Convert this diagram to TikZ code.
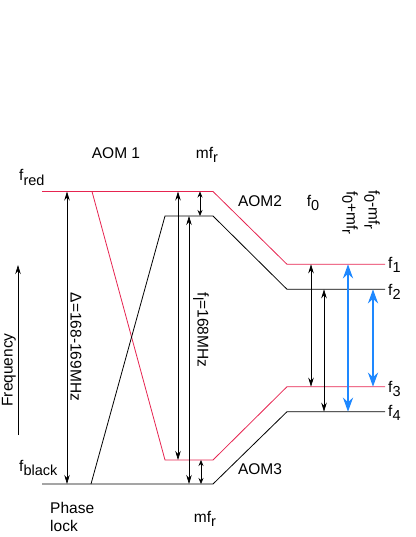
\documentclass[tikz,border=0pt]{standalone}
\usepackage{fontspec}
\setmainfont{Liberation Sans}
\usetikzlibrary{arrows.meta}
\definecolor{lvred}{RGB}{230,36,80}
\definecolor{lvblue}{RGB}{30,136,255}
\newcommand\sbs[1]{\raisebox{-0.28em}{\fontsize{14.5}{15}\selectfont #1}}
\begin{document}
\begin{tikzpicture}[x=1pt,y=-1pt,
  font=\fontsize{15.5}{17.5}\selectfont,
  lvl/.style={line width=0.8pt},
  redlvl/.style={lvl,draw=lvred},
  blklvl/.style={lvl,draw=black},
  dbl/.style={line width=0.7pt,{Stealth[length=9pt,width=5.5pt]}-{Stealth[length=9pt,width=5.5pt]}},
  small/.style={line width=0.7pt,{Stealth[length=6pt,width=5pt]}-{Stealth[length=6pt,width=5pt]}},
  bluedbl/.style={line width=2.4pt,draw=lvblue,{Stealth[length=14pt,width=10pt]}-{Stealth[length=14pt,width=10pt]}},
  lbl/.style={inner sep=0pt},
  ]
\useasboundingbox (0,0) rectangle (415,537);
% level coordinates
\coordinate (r1a) at (42,191.5);  \coordinate (r1b) at (92,191.5);
\coordinate (r1c) at (213,191.5); \coordinate (r1d) at (287,264.3); \coordinate (r1e) at (385,264.3);
\coordinate (b1a) at (165,216);   \coordinate (b1b) at (213,216);
\coordinate (b1c) at (287,289.3); \coordinate (b1d) at (385,289.3);
\coordinate (r2a) at (165,460);   \coordinate (r2b) at (213,460);
\coordinate (r2c) at (287,386.7); \coordinate (r2d) at (385,386.7);
\coordinate (b2a) at (42,484);    \coordinate (b2b) at (91,484);
\coordinate (b2c) at (213,484);   \coordinate (b2d) at (287,411.7); \coordinate (b2e) at (385,411.7);
% levels
\draw[redlvl] (r1a) -- (r1c) -- (r1d) -- (r1e);
\draw[redlvl] (r1b) -- (r2a) -- (r2b) -- (r2c) -- (r2d);
\draw[blklvl] (b2b) -- (b1a) -- (b1b) -- (b1c) -- (b1d);
\draw[blklvl] (b2a) -- (b2c) -- (b2d) -- (b2e);
% arrows
\coordinate (dT) at (67,191.5);   \coordinate (dB) at (67,484);
\coordinate (aT) at (178,191.5);  \coordinate (aB) at (178,460);
\coordinate (cT) at (189,216);    \coordinate (cB) at (189,484);
\coordinate (mT1) at (200,191.5); \coordinate (mT2) at (200,216);
\coordinate (mB1) at (201,460);   \coordinate (mB2) at (201,484);
\coordinate (k1T) at (311,264.3); \coordinate (k1B) at (311,386.7);
\coordinate (k2T) at (324,289.3); \coordinate (k2B) at (324,411.7);
\coordinate (u1T) at (348,264.3); \coordinate (u1B) at (348,411.7);
\coordinate (u2T) at (373,289.3); \coordinate (u2B) at (373,386.7);
\coordinate (fqB) at (18,435);    \coordinate (fqT) at (18,265);
\draw[dbl] (dT) -- (dB);
\draw[dbl] (aT) -- (aB);
\draw[dbl] (cT) -- (cB);
\draw[small] (mT1) -- (mT2);
\draw[small] (mB1) -- (mB2);
\draw[dbl] (k1T) -- (k1B);
\draw[dbl] (k2T) -- (k2B);
\draw[bluedbl] (u1T) -- (u1B);
\draw[bluedbl] (u2T) -- (u2B);
\draw[line width=0.7pt,-{Stealth[length=9pt,width=5.5pt]}] (fqB) -- (fqT);
% labels
\node[lbl] (aom1) at (116,153) {AOM 1};
\node[lbl] (mftop) at (207,155) {mf\sbs{r}};
\node[lbl,anchor=base west] (fred) at (19,181) {f\sbs{red}};
\node[lbl,anchor=base west] (fblack) at (19,471) {f\sbs{black}};
\node[lbl] (aom2) at (260,201) {AOM2};
\node[lbl] (f0) at (313,203) {f\sbs{0}};
\node[lbl,rotate=-90] (fpm) at (350,213) {f\sbs{0}+mf\sbs{r}};
\node[lbl,rotate=-90] (fmm) at (372,210) {f\sbs{0}-mf\sbs{r}};
\node[lbl,anchor=west] (f1) at (388,265) {f\sbs{1}};
\node[lbl,anchor=west] (f2) at (388,292) {f\sbs{2}};
\node[lbl,anchor=west] (f3) at (388,389) {f\sbs{3}};
\node[lbl,anchor=west] (f4) at (388,413) {f\sbs{4}};
\node[lbl,rotate=90] (freq) at (9,370) {Frequency};
\node[lbl,rotate=-90] (delta) at (76,347) {Δ=168-169MHz};
\node[lbl,rotate=-90] (fl) at (201,330) {f\sbs{l}=168MHz};
\node[lbl] (aom3) at (260,469) {AOM3};
\node[lbl,align=left,anchor=west] (plock) at (50,517) {Phase\\lock};
\node[lbl] (mfbot) at (205,519) {mf\sbs{r}};
\end{tikzpicture}
\end{document}
